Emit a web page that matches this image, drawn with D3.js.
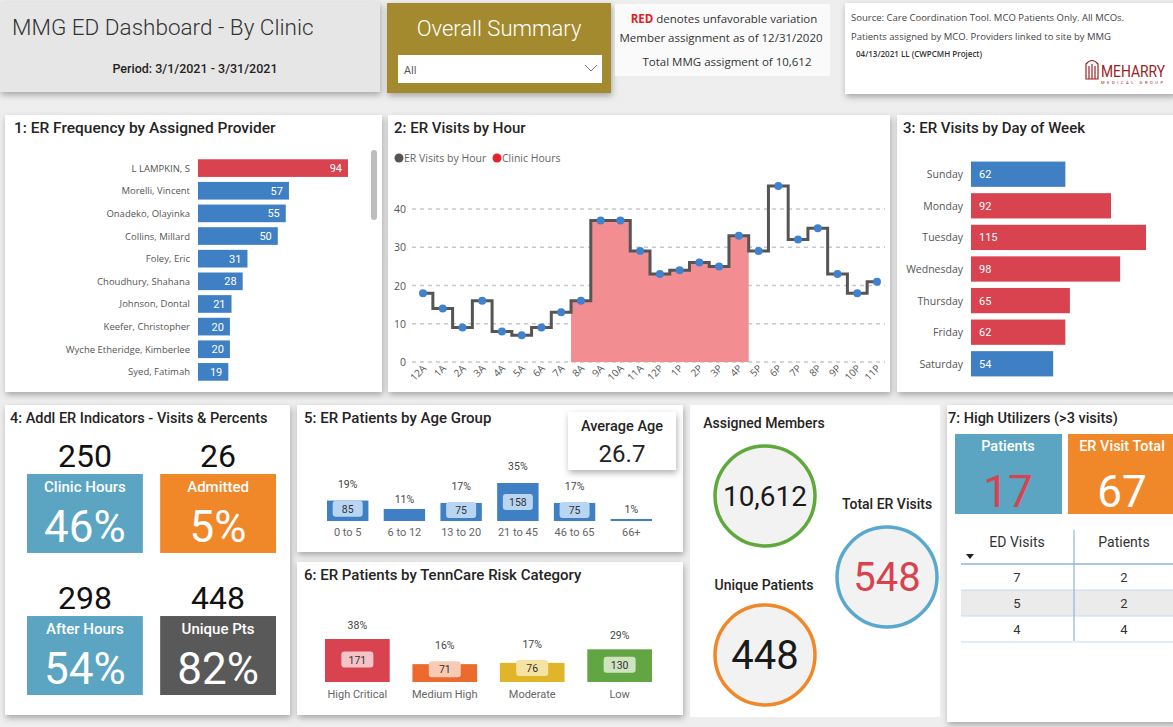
<!DOCTYPE html>
<meta charset="utf-8">
<style>
  body { margin: 0; background: #eeeeee; }
  svg { display: block; font-family: Roboto, "Open Sans", sans-serif; }
  .lbl { font-family: "Open Sans", sans-serif; fill: #555; }
</style>
<svg width="1173" height="727"></svg>
<script src="https://d3js.org/d3.v7.min.js"></script>
<script>

// ---- data ----
var providers = ["L LAMPKIN, S", "Morelli, Vincent", "Onadeko, Olayinka", "Collins, Millard", "Foley, Eric",
    "Choudhury, Shahana", "Johnson, Dontal", "Keefer, Christopher", "Wyche Etheridge, Kimberlee", "Syed, Fatimah"];
var providerVisits = [94, 57, 55, 50, 31, 28, 21, 20, 20, 19];
var providerFlag = [true, false, false, false, false, false, false, false, false, false];

var hours = ["12A", "1A", "2A", "3A", "4A", "5A", "6A", "7A", "8A", "9A", "10A", "11A",
    "12P", "1P", "2P", "3P", "4P", "5P", "6P", "7P", "8P", "9P", "10P", "11P"];
var hourVisits = [18, 14, 9, 16, 8, 7, 9, 13, 16, 37, 37, 29, 23, 24, 26, 25, 33, 29, 46, 32, 35, 23, 18, 21];
var clinicHours = ["8A", "9A", "10A", "11A", "12P", "1P", "2P", "3P", "4P"];
var hourTicks = [0, 10, 20, 30, 40];

var days = ["Sunday", "Monday", "Tuesday", "Wednesday", "Thursday", "Friday", "Saturday"];
var dayVisits = [62, 92, 115, 98, 65, 62, 54];
var dayFlag = [false, true, true, true, true, true, false];

var indicatorNames = ["Clinic Hours", "Admitted", "After Hours", "Unique Pts"];
var indicatorCounts = [250, 26, 298, 448];
var indicatorPct = ["46%", "5%", "54%", "82%"];

var ageGroups = ["0 to 5", "6 to 12", "13 to 20", "21 to 45", "46 to 65", "66+"];
var agePatients = [85, 50, 75, 158, 75, 5];
var agePct = ["19%", "11%", "17%", "35%", "17%", "1%"];
var averageAge = "26.7";

var riskCats = ["High Critical", "Medium High", "Moderate", "Low"];
var riskPatients = [171, 71, 76, 130];
var riskPct = ["38%", "16%", "17%", "29%"];

var assignedMembers = 10612, totalERVisits = 548, uniquePatients = 448;
var highUtilPatients = 17, highUtilVisits = 67;
var edVisits = [7, 5, 4];
var edPatients = [2, 2, 4];

// ---- setup ----
var svg = d3.select("svg");
var defs = svg.append("defs");
defs.append("filter").attr("id", "sh").attr("x", "-10%").attr("y", "-10%").attr("width", "130%").attr("height", "130%")
    .append("feDropShadow").attr("dx", 1).attr("dy", 3).attr("stdDeviation", 3)
    .attr("flood-color", "#000").attr("flood-opacity", 0.3);

function panel(x, y, w, h, fill) {
    svg.append("rect").attr("x", x).attr("y", y).attr("width", w).attr("height", h)
        .attr("fill", fill || "#fff").attr("filter", "url(#sh)");
}
function txt(x, y, s, size, opts) {
    opts = opts || {};
    return svg.append("text").attr("x", x).attr("y", y).text(s)
        .attr("font-size", size)
        .attr("fill", opts.fill || "#252423")
        .attr("text-anchor", opts.anchor || "start")
        .attr("font-weight", opts.weight || null)
        .attr("font-family", opts.family || null);
}

var BLUE = "#3f7fc4", RED = "#d9434f", TEAL = "#5ba5c3", ORANGE = "#f0882a", DARK = "#595959";
var OPEN = "'Open Sans', sans-serif";

// ---- header ----
panel(0, 2, 380, 90, "#e6e6e6");
txt(12, 35, "MMG ED Dashboard - By Clinic", 22.5, {fill: "#333", weight: 300});
txt(195, 73, "Period: 3/1/2021 - 3/31/2021", 12.5, {anchor: "middle", weight: 500});

panel(387, 3, 224, 90, "#a38a2e");
txt(499, 36, "Overall Summary", 22, {anchor: "middle", fill: "#fff", weight: 300});
svg.append("rect").attr("x", 398).attr("y", 55).attr("width", 204).attr("height", 28).attr("fill", "#fff");
txt(404, 74, "All", 11, {fill: "#555", family: OPEN});
svg.append("path").attr("d", "M585,65 L591,71 L597,65").attr("fill", "none").attr("stroke", "#777").attr("stroke-width", 1);

svg.append("rect").attr("x", 615).attr("y", 4).attr("width", 215).attr("height", 72).attr("fill", "#fafafa");
var rt = txt(724, 23, "", 11.5, {anchor: "middle", family: OPEN, fill: "#333"});
rt.append("tspan").attr("fill", "#e02020").attr("font-weight", 700).text("RED");
rt.append("tspan").text(" denotes unfavorable variation");
txt(721, 42, "Member assignment as of 12/31/2020", 11.5, {anchor: "middle", family: OPEN, fill: "#333"});
txt(727, 66, "Total MMG assigment of 10,612", 11.5, {anchor: "middle", family: OPEN, fill: "#333"});

panel(845, 3, 330, 91);
txt(851, 21, "Source: Care Coordination Tool. MCO Patients Only. All MCOs.", 9.5, {family: OPEN, fill: "#444"});
txt(851, 40, "Patients assigned by MCO. Providers linked to site by MMG", 9.5, {family: OPEN, fill: "#444"});
txt(856, 57, "04/13/2021 LL (CWPCMH Project)", 8, {family: OPEN, fill: "#333", weight: 600});
// logo
var logo = svg.append("g").attr("fill", "none").attr("stroke", "#9b2226").attr("stroke-width", 1.2);
logo.append("path").attr("d", "M1086,79 L1086,64 Q1092,57 1098,64 L1098,79 Z M1089,79 L1089,66 M1092,79 L1092,64 M1095,79 L1095,66");
txt(1101, 77, "MEHARRY", 14, {fill: "#9b2226"}).attr("textLength", 64).attr("lengthAdjust", "spacingAndGlyphs")
    .attr("transform", "translate(1101,77) scale(1,1.15) translate(-1101,-77)");
txt(1101, 84, "MEDICAL GROUP", 4, {fill: "#9b2226"}).attr("textLength", 62);

// ---- 1: providers ----
panel(5, 115, 377, 277);
txt(14, 133, "1: ER Frequency by Assigned Provider", 15.5, {weight: 500});
var y1 = d3.scaleBand().domain(providers).range([157, 383]).paddingInner(0.22).paddingOuter(0.1);
var x1 = d3.scaleLinear().domain([0, 94]).range([198, 348]);
var g1 = svg.append("g");
g1.selectAll("rect").data(providers).join("rect")
    .attr("x", x1(0)).attr("y", function (d) { return y1(d); })
    .attr("width", function (d, i) { return x1(providerVisits[i]) - x1(0); })
    .attr("height", y1.bandwidth())
    .attr("fill", function (d, i) { return providerFlag[i] ? RED : BLUE; });
g1.selectAll("text.v").data(providers).join("text").attr("class", "v")
    .attr("x", function (d, i) { return x1(providerVisits[i]) - 6; })
    .attr("y", function (d) { return y1(d) + y1.bandwidth() / 2 + 4; })
    .attr("text-anchor", "end").attr("font-size", 11).attr("fill", "#fff")
    .text(function (d, i) { return providerVisits[i]; });
g1.selectAll("text.n").data(providers).join("text").attr("class", "n lbl")
    .attr("x", 190).attr("y", function (d) { return y1(d) + y1.bandwidth() / 2 + 3.5; })
    .attr("text-anchor", "end").attr("font-size", 9.5)
    .text(function (d) { return d; });
svg.append("rect").attr("x", 371).attr("y", 150).attr("width", 6).attr("height", 70).attr("rx", 3).attr("fill", "#bdbdbd");

// ---- 2: visits by hour ----
panel(388, 115, 502, 277);
txt(394, 133, "2: ER Visits by Hour", 15, {weight: 500});
svg.append("circle").attr("cx", 399).attr("cy", 158).attr("r", 4.5).attr("fill", "#555");
txt(404, 162, "ER Visits by Hour", 10.5, {fill: "#666", family: OPEN});
svg.append("circle").attr("cx", 497).attr("cy", 158).attr("r", 4.5).attr("fill", "#e8202a");
txt(502, 162, "Clinic Hours", 10.5, {fill: "#666", family: OPEN});

var x2 = d3.scalePoint().domain(hours).range([423, 877]);
var y2 = d3.scaleLinear().domain([0, 40]).range([362, 209]);
var step = x2.step();
var g2 = svg.append("g");
g2.selectAll("line.grid").data(hourTicks).join("line").attr("class", "grid")
    .attr("x1", 412).attr("x2", 885)
    .attr("y1", function (d) { return y2(d); }).attr("y2", function (d) { return y2(d); })
    .attr("stroke", "#c8c8c8").attr("stroke-width", 1.5).attr("stroke-dasharray", "4,4");
g2.selectAll("text.yt").data(hourTicks).join("text").attr("class", "yt lbl")
    .attr("x", 406).attr("y", function (d) { return y2(d) + 4; })
    .attr("text-anchor", "end").attr("font-size", 10.5).attr("fill", "#777")
    .text(function (d) { return d; });

var clinicPts = [];
clinicHours.forEach(function (h) {
    var v = hourVisits[hours.indexOf(h)];
    clinicPts.push([x2(h) - step / 2, v], [x2(h) + step / 2, v]);
});
g2.append("path").datum(clinicPts)
    .attr("d", d3.area().x(function (d) { return d[0]; }).y0(y2(0)).y1(function (d) { return y2(d[1]); }))
    .attr("fill", "#f28d92");
g2.append("path").datum(hours)
    .attr("d", d3.line().curve(d3.curveStep)
        .x(function (d) { return x2(d); })
        .y(function (d, i) { return y2(hourVisits[i]); }))
    .attr("fill", "none").attr("stroke", "#555").attr("stroke-width", 3);
g2.selectAll("circle").data(hours).join("circle")
    .attr("cx", function (d) { return x2(d); })
    .attr("cy", function (d, i) { return y2(hourVisits[i]); })
    .attr("r", 4).attr("fill", "#3f83d0");
g2.selectAll("text.xt").data(hours).join("text").attr("class", "xt lbl")
    .attr("transform", function (d) { return "translate(" + (x2(d) + 4) + ",369) rotate(-45)"; })
    .attr("text-anchor", "end").attr("font-size", 10).attr("fill", "#777")
    .text(function (d) { return d; });

// ---- 3: day of week ----
panel(897, 115, 280, 277);
txt(903, 133, "3: ER Visits by Day of Week", 15, {weight: 500});
var y3 = d3.scaleBand().domain(days).range([160, 378]).paddingInner(0.2).paddingOuter(0.05);
var x3 = d3.scaleLinear().domain([0, 115]).range([971, 1146]);
var g3 = svg.append("g");
g3.selectAll("rect").data(days).join("rect")
    .attr("x", x3(0)).attr("y", function (d) { return y3(d); })
    .attr("width", function (d, i) { return x3(dayVisits[i]) - x3(0); })
    .attr("height", y3.bandwidth())
    .attr("fill", function (d, i) { return dayFlag[i] ? RED : BLUE; });
g3.selectAll("text.v").data(days).join("text").attr("class", "v")
    .attr("x", x3(0) + 8).attr("y", function (d) { return y3(d) + y3.bandwidth() / 2 + 4; })
    .attr("font-size", 11).attr("fill", "#fff")
    .text(function (d, i) { return dayVisits[i]; });
g3.selectAll("text.n").data(days).join("text").attr("class", "n lbl")
    .attr("x", 963).attr("y", function (d) { return y3(d) + y3.bandwidth() / 2 + 4; })
    .attr("text-anchor", "end").attr("font-size", 10.5)
    .text(function (d) { return d; });

// ---- 4: indicators ----
panel(5, 405, 285, 310);
txt(10, 423, "4: Addl ER Indicators - Visits & Percents", 14.5, {weight: 500});
var tileColors = [TEAL, ORANGE, TEAL, DARK];
var tileX = d3.scaleBand().domain([0, 1]).range([27, 276]).paddingInner(0.13);
var tileY = d3.scaleBand().domain([0, 1]).range([474, 695]).paddingInner(0.444);
indicatorNames.forEach(function (n, i) {
    var tx = tileX(i % 2), ty = tileY(Math.floor(i / 2)), tw = tileX.bandwidth(), th = tileY.bandwidth();
    svg.append("rect").attr("x", tx).attr("y", ty).attr("width", tw).attr("height", th).attr("fill", tileColors[i]);
    txt(tx + tw / 2, ty - 7, indicatorCounts[i], 32, {anchor: "middle", fill: "#111"});
    txt(tx + tw / 2, ty + 18, n, 15, {anchor: "middle", fill: "#fff", weight: 500});
    txt(tx + tw / 2, ty + th - 11, indicatorPct[i], 44, {anchor: "middle", fill: "#fff"});
});

// ---- 5: age groups ----
panel(297, 405, 386, 147);
txt(304, 423, "5: ER Patients by Age Group", 15, {weight: 500});
var x5 = d3.scaleBand().domain(ageGroups).range([327, 652]).paddingInner(0.27);
var h5 = d3.scaleLinear().domain([0, 158]).range([0, 38]);
var base5 = 521;
var g5 = svg.append("g");
ageGroups.forEach(function (a, i) {
    var bx = x5(a), bw = x5.bandwidth(), bh = Math.max(2, h5(agePatients[i]));
    g5.append("rect").attr("x", bx).attr("y", base5 - bh).attr("width", bw).attr("height", bh).attr("fill", BLUE);
    if (bh > 15) {
        var cy = base5 - bh / 2 - (bh < 30 ? 2 : 0);
        g5.append("rect").attr("x", bx + bw / 2 - 15).attr("y", cy - 8).attr("width", 30).attr("height", 16)
            .attr("rx", 3).attr("fill", "#b8d6f2");
        g5.append("text").attr("x", bx + bw / 2).attr("y", cy + 4).attr("text-anchor", "middle")
            .attr("font-size", 10.5).attr("fill", "#333").text(agePatients[i]);
    }
    g5.append("text").attr("x", bx + bw / 2).attr("y", base5 - bh - (bh > 15 ? 13 : 6)).attr("text-anchor", "middle")
        .attr("font-size", 10.5).attr("fill", "#444").text(agePct[i]);
    g5.append("text").attr("x", bx + bw / 2).attr("y", base5 + 15).attr("text-anchor", "middle")
        .attr("font-size", 11).attr("fill", "#666").text(a);
});
panel(568, 412, 108, 58);
txt(622, 431, "Average Age", 14.5, {anchor: "middle", weight: 500});
txt(622, 462, averageAge, 24, {anchor: "middle", fill: "#222"});

// ---- 6: risk ----
panel(297, 562, 386, 153);
txt(304, 580, "6: ER Patients by TennCare Risk Category", 15, {weight: 500});
var riskColors = [RED, "#ec6a2e", "#e0b52a", "#62a644"];
var riskTints = ["#f3c3c8", "#f8ccb4", "#f5e3a3", "#cde4bf"];
var x6 = d3.scaleBand().domain(riskCats).range([325, 652]).paddingInner(0.26);
var h6 = d3.scaleLinear().domain([0, 171]).range([0, 43]);
var base6 = 682;
riskCats.forEach(function (r, i) {
    var bx = x6(r), bw = x6.bandwidth(), bh = h6(riskPatients[i]);
    svg.append("rect").attr("x", bx).attr("y", base6 - bh).attr("width", bw).attr("height", bh).attr("fill", riskColors[i]);
    var cy = bh > 30 ? base6 - bh / 2 - 1 : base6 - bh + 5;
    svg.append("rect").attr("x", bx + bw / 2 - 16).attr("y", cy - 8).attr("width", 32).attr("height", 16)
        .attr("rx", 3).attr("fill", riskTints[i]);
    txt(bx + bw / 2, cy + 4, riskPatients[i], 10.5, {anchor: "middle", fill: "#333"});
    txt(bx + bw / 2, base6 - bh - (bh > 30 ? 10 : 15), riskPct[i], 10.5, {anchor: "middle", fill: "#444"});
    txt(bx + bw / 2, base6 + 16, r, 11, {anchor: "middle", fill: "#666"});
});

// ---- circles ----
svg.append("rect").attr("x", 690).attr("y", 405).attr("width", 250).attr("height", 312).attr("fill", "#fff");
var fmt = d3.format(",");
var circles = [
    {label: "Assigned Members", value: fmt(assignedMembers), cx: 765, cy: 496, lx: 764, ly: 428, color: "#5fa83c", vc: "#1a1a1a", fs: 28},
    {label: "Total ER Visits", value: fmt(totalERVisits), cx: 887, cy: 577, lx: 887, ly: 509, color: "#5ba8cf", vc: RED, fs: 40},
    {label: "Unique Patients", value: fmt(uniquePatients), cx: 765, cy: 655, lx: 764, ly: 590, color: "#f0882a", vc: "#1a1a1a", fs: 40}
];
circles.forEach(function (c) {
    svg.append("circle").attr("cx", c.cx).attr("cy", c.cy).attr("r", 50)
        .attr("fill", "#f2f2f2").attr("stroke", c.color).attr("stroke-width", 3.5);
    txt(c.lx, c.ly, c.label, 14, {anchor: "middle", weight: 500});
    txt(c.cx, c.cy + c.fs * 0.36, c.value, c.fs, {anchor: "middle", fill: c.vc});
});

// ---- 7: high utilizers ----
panel(947, 405, 230, 317);
txt(948, 423, "7: High Utilizers (>3 visits)", 14.5, {weight: 500});
svg.append("rect").attr("x", 955).attr("y", 434).attr("width", 107).attr("height", 80).attr("fill", TEAL);
svg.append("rect").attr("x", 1068).attr("y", 434).attr("width", 110).attr("height", 80).attr("fill", ORANGE);
txt(1008, 451, "Patients", 14.5, {anchor: "middle", fill: "#fff", weight: 500});
txt(1008, 507, highUtilPatients, 44, {anchor: "middle", fill: RED});
txt(1122, 451, "ER Visit Total", 14.5, {anchor: "middle", fill: "#fff", weight: 500});
txt(1122, 507, highUtilVisits, 44, {anchor: "middle", fill: "#fff"});

var rowY = d3.scaleBand().domain(d3.range(edVisits.length)).range([564, 642]);
var gt = svg.append("g");
gt.selectAll("rect").data(edVisits).join("rect")
    .attr("x", 961).attr("y", function (d, i) { return rowY(i); })
    .attr("width", 212).attr("height", rowY.bandwidth())
    .attr("fill", function (d, i) { return i % 2 ? "#ebebeb" : "#fff"; });
gt.selectAll("line.r").data(edVisits).join("line").attr("class", "r")
    .attr("x1", 961).attr("x2", 1173)
    .attr("y1", function (d, i) { return rowY(i) + rowY.bandwidth(); })
    .attr("y2", function (d, i) { return rowY(i) + rowY.bandwidth(); })
    .attr("stroke", "#c9d9ec").attr("stroke-width", 1);
gt.append("line").attr("x1", 961).attr("x2", 1173).attr("y1", 564).attr("y2", 564).attr("stroke", "#8fb4dc").attr("stroke-width", 1.5);
gt.append("line").attr("x1", 1074).attr("x2", 1074).attr("y1", 530).attr("y2", 641).attr("stroke", "#8fb4dc").attr("stroke-width", 1.2);
txt(1017, 547, "ED Visits", 14, {anchor: "middle", fill: "#333"});
txt(1124, 547, "Patients", 14, {anchor: "middle", fill: "#333"});
svg.append("path").attr("d", "M966,554 L974,554 L970,559 Z").attr("fill", "#222");
gt.selectAll("text.a").data(edVisits).join("text").attr("class", "a")
    .attr("x", 1017).attr("y", function (d, i) { return rowY(i) + rowY.bandwidth() / 2 + 5; })
    .attr("text-anchor", "middle").attr("font-size", 13).attr("fill", "#333").text(function (d) { return d; });
gt.selectAll("text.b").data(edPatients).join("text").attr("class", "b")
    .attr("x", 1124).attr("y", function (d, i) { return rowY(i) + rowY.bandwidth() / 2 + 5; })
    .attr("text-anchor", "middle").attr("font-size", 13).attr("fill", "#333").text(function (d) { return d; });

</script>
